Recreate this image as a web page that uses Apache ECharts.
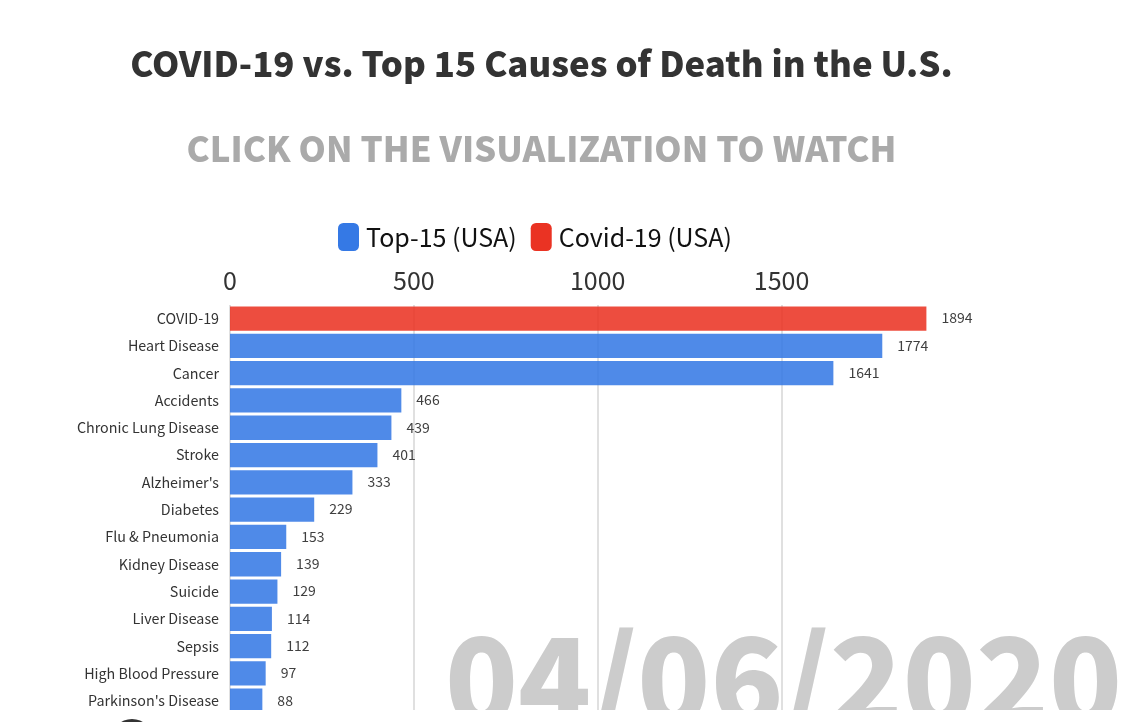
<!DOCTYPE html>
<html>
<head>
<meta charset="utf-8">
<style>
  html, body { margin: 0; padding: 0; background: #fff; }
  #chart { width: 1146px; height: 722px; }
</style>
<script src="https://cdn.jsdelivr.net/npm/echarts@6/dist/echarts.min.js"></script>
</head>
<body>
<div id="chart"></div>
<script>
const causes = ['COVID-19', 'Heart Disease', 'Cancer', 'Accidents', 'Chronic Lung Disease', 'Stroke', "Alzheimer's", 'Diabetes', 'Flu & Pneumonia', 'Kidney Disease', 'Suicide', 'Liver Disease', 'Sepsis', 'High Blood Pressure', "Parkinson's Disease"];
const covidDeaths = [1894, null, null, null, null, null, null, null, null, null, null, null, null, null, null];
const topDeaths = [null, 1774, 1641, 466, 439, 401, 333, 229, 153, 139, 129, 114, 112, 97, 88];
const axisMax = 1894;
const dateLabel = '04/06/2020';

const FONT = '"Noto Sans CJK SC", "Noto Sans", sans-serif';
const chart = echarts.init(document.getElementById('chart'));

const barLabel = { show: true, position: 'right', distance: 15, color: '#222', fontSize: 14, fontFamily: FONT, offset: [0, -0.5] };

chart.setOption({
  animation: false,
  backgroundColor: '#fff',
  textStyle: { fontFamily: FONT },
  title: [
    { text: 'COVID-19 vs. Top 15 Causes of Death in the U.S.', left: 536.5, top: 59, textAlign: 'center', textVerticalAlign: 'middle',
      textStyle: { fontSize: 34.8, fontWeight: 900, color: '#333', fontFamily: FONT } },
    { text: 'CLICK ON THE VISUALIZATION TO WATCH', left: 536.5, top: 144, textAlign: 'center', textVerticalAlign: 'middle',
      textStyle: { fontSize: 34.8, fontWeight: 900, color: '#aaa', fontFamily: FONT } },
  ],
  legend: {
    left: 333, top: 218, itemWidth: 21, itemHeight: 28, itemGap: 14,
    icon: 'roundRect',
    data: ['Top-15 (USA)', 'Covid-19 (USA)'],
    itemStyle: { opacity: 1 },
    textStyle: { fontSize: 25, color: '#111', fontFamily: FONT, padding: [0, 0, 0, 2] },
  },
  grid: { left: 230, top: 304.9, width: 696.4, height: 409.5 },
  xAxis: {
    type: 'value', position: 'top', min: 0, max: axisMax, interval: 500,
    axisLine: { show: false }, axisTick: { show: false },
    axisLabel: { showMaxLabel: false, fontSize: 25, color: '#333', margin: 12, fontFamily: FONT, formatter: (v) => String(v) },
    splitLine: { showMaxLine: false, lineStyle: { color: '#e0e0e0', width: 2 } },
  },
  yAxis: {
    type: 'category', inverse: true, data: causes,
    axisLine: { show: false }, axisTick: { show: false },
    axisLabel: { fontSize: 14.3, color: '#333', margin: 11, fontFamily: FONT, padding: [0, 0, 1, 0] },
  },
  series: [
    { name: 'Top-15 (USA)', type: 'bar', stack: 'deaths', barWidth: 24.3, data: topDeaths,
      itemStyle: { color: '#3579E5', opacity: 0.87 }, label: barLabel },
    { name: 'Covid-19 (USA)', type: 'bar', stack: 'deaths', barWidth: 24.3, data: covidDeaths,
      itemStyle: { color: '#EA3323', opacity: 0.87 }, label: barLabel },
  ],
  graphic: [
    { type: 'text', z: 50, left: 445, top: 619,
      style: { text: dateLabel, fontSize: 120, fontWeight: 900, fill: '#ccc', fontFamily: FONT } },
    { type: 'rect', z: 60, shape: { x: 0, y: 710, width: 1146, height: 12 }, style: { fill: '#fff' } },
    { type: 'circle', z: 70, shape: { cx: 132, cy: 740, r: 21 }, style: { fill: '#333' } },
  ],
});

window.addEventListener('resize', () => chart.resize());
</script>
</body>
</html>
